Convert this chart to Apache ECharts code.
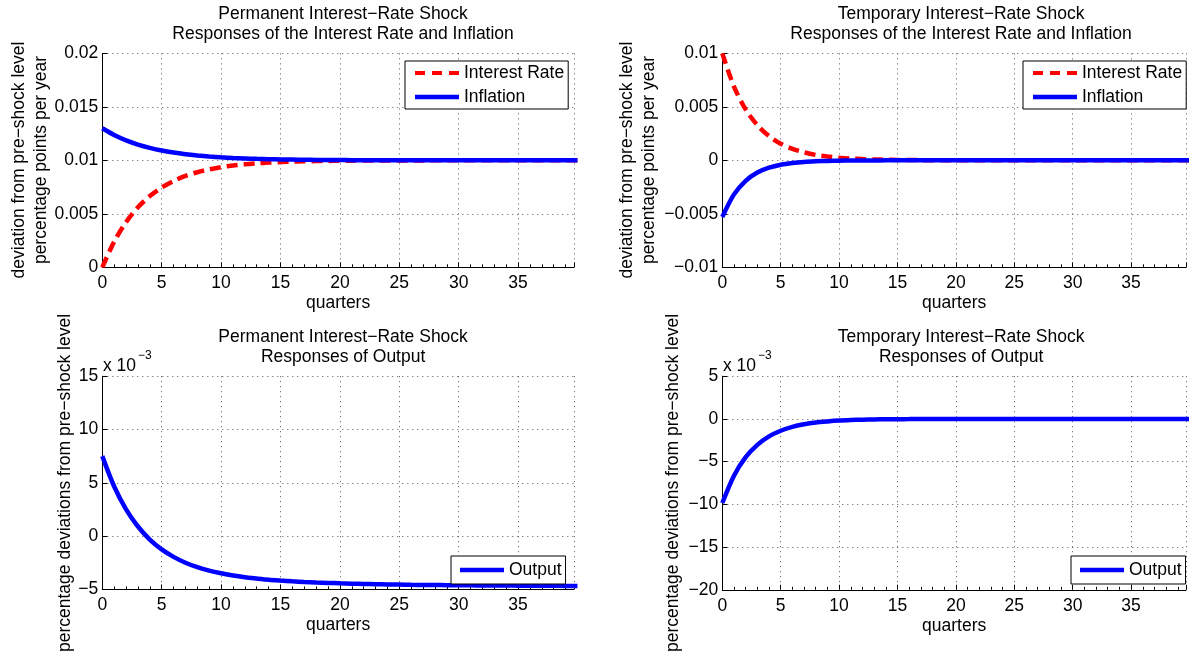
<!DOCTYPE html>
<html>
<head>
<meta charset="utf-8">
<script src="https://cdn.jsdelivr.net/npm/echarts@6/dist/echarts.min.js"></script>
<style>
html,body{margin:0;padding:0;background:#fff;}
#chart{width:1189px;height:656px;}
</style>
</head>
<body>
<div id="chart"></div>
<script>
// ---- data ----
const quarters = [0,1,2,3,4,5,6,7,8,9,10,11,12,13,14,15,16,17,18,19,20,21,22,23,24,25,26,27,28,29,30,31,32,33,34,35,36,37,38,39,40];

// Permanent shock: interest rate and inflation
const permRate = [0,0.00240,0.00422,0.00561,0.00666,0.00746,0.00807,0.00854,0.00889,0.00915,0.00936,0.00951,0.00963,0.00972,0.00979,0.00984,0.00988,0.00991,0.00993,0.00995,0.00996,0.00997,0.00998,0.00998,0.00999,0.00999,0.00999,0.00999,0.01,0.01,0.01,0.01,0.01,0.01,0.01,0.01,0.01,0.01,0.01,0.01,0.01];
const permInfl = [0.01300,0.01237,0.01187,0.01148,0.01117,0.01092,0.01073,0.01058,0.01046,0.01036,0.01028,0.01022,0.01018,0.01014,0.01011,0.01009,0.01007,0.01005,0.01004,0.01003,0.01003,0.01002,0.01002,0.01001,0.01001,0.01001,0.01001,0.01001,0.01,0.01,0.01,0.01,0.01,0.01,0.01,0.01,0.01,0.01,0.01,0.01,0.01];

// Temporary shock: interest rate and inflation
const tempRate = [0.0100,0.00690,0.00476,0.00329,0.00227,0.00156,0.00108,0.00075,0.00051,0.00036,0.00025,0.00017,0.00012,0.00008,0.00006,0.00004,0.00003,0.00002,0.00001,0.00001,0.00001,0,0,0,0,0,0,0,0,0,0,0,0,0,0,0,0,0,0,0,0];
const tempInfl = [-0.00530,-0.00318,-0.00191,-0.00114,-0.00069,-0.00041,-0.00025,-0.00015,-0.00009,-0.00005,-0.00003,-0.00002,-0.00001,-0.00001,0,0,0,0,0,0,0,0,0,0,0,0,0,0,0,0,0,0,0,0,0,0,0,0,0,0,0];

// Output responses (units of 1e-3)
const permOutput = [7.50,4.65,2.51,0.90,-0.32,-1.25,-1.95,-2.50,-2.92,-3.24,-3.49,-3.70,-3.86,-3.98,-4.09,-4.17,-4.24,-4.30,-4.35,-4.39,-4.43,-4.46,-4.49,-4.51,-4.53,-4.55,-4.57,-4.58,-4.59,-4.60,-4.61,-4.62,-4.63,-4.64,-4.64,-4.65,-4.65,-4.66,-4.66,-4.67,-4.67];
const tempOutput = [-9.84,-6.64,-4.48,-3.03,-2.04,-1.38,-0.93,-0.63,-0.42,-0.29,-0.19,-0.13,-0.09,-0.06,-0.04,-0.03,-0.02,-0.01,-0.01,-0.01,0,0,0,0,0,0,0,0,0,0,0,0,0,0,0,0,0,0,0,0,0];

const xTicks = [0,5,10,15,20,25,30,35];
const titles = [
  'Permanent Interest\u2212Rate Shock\nResponses of the Interest Rate and Inflation',
  'Temporary Interest\u2212Rate Shock\nResponses of the Interest Rate and Inflation',
  'Permanent Interest\u2212Rate Shock\nResponses of Output',
  'Temporary Interest\u2212Rate Shock\nResponses of Output'
];
const yNameTop = 'deviation from pre\u2212shock level\npercentage points per year';
const yNameBottom = 'percentage deviations from pre\u2212shock level';

// ---- chart ----
const FONT = "'Liberation Sans', Arial, Helvetica, sans-serif";
const FS = 17.5;
const chart = echarts.init(document.getElementById('chart'), null, {renderer: 'canvas'});

const pairs = arr => quarters.map((q, i) => [q, arr[i]]);
const fmt = v => String(Math.round(v * 100000) / 100000).replace('-', '\u2212');

const grids = [
  {left: 102.3, top: 53.4, width: 471.6, height: 213.9},
  {left: 722.3, top: 53.4, width: 471.6, height: 213.9},
  {left: 102.3, top: 376.2, width: 471.6, height: 213.2},
  {left: 722.3, top: 376.2, width: 471.6, height: 213.6}
];
const yRanges = [
  {min: 0, max: 0.02, interval: 0.005},
  {min: -0.01, max: 0.01, interval: 0.005},
  {min: -5, max: 15, interval: 5},
  {min: -20, max: 5, interval: 5}
];
const gridLine = {show: true, lineStyle: {color: '#555', width: 1, type: [1, 4]}};

const xAxes = grids.map((g, i) => ({
  type: 'value', gridIndex: i, min: 0, max: 39.7, interval: 5,
  name: 'quarters', nameLocation: 'middle', nameGap: 27,
  nameTextStyle: {fontSize: FS, color: '#000', fontFamily: FONT},
  axisLine: {show: true, onZero: false, lineStyle: {color: '#000', width: 1}},
  axisTick: {show: true, inside: true, length: 5, lineStyle: {color: '#000'}},
  minorTick: {show: true, splitNumber: 5, length: 3, lineStyle: {color: '#000'}},
  axisLabel: {fontSize: FS, color: '#000', fontFamily: FONT, margin: 7,
    formatter: v => (xTicks.indexOf(v) >= 0 ? fmt(v) : '')},
  splitLine: gridLine
}));
const yAxes = grids.map((g, i) => ({
  type: 'value', gridIndex: i, min: yRanges[i].min, max: yRanges[i].max, interval: yRanges[i].interval,
  axisLine: {show: true, onZero: false, lineStyle: {color: '#000', width: 1}},
  axisTick: {show: true, inside: true, length: 5, lineStyle: {color: '#000'}},
  axisLabel: {fontSize: FS, color: '#000', fontFamily: FONT, margin: 4, formatter: fmt},
  splitLine: gridLine
}));

const redLine = {color: '#ff0000', width: 4.5, type: [11, 6], cap: 'butt'};
const blueLine = {color: '#0000ff', width: 4.5, type: 'solid'};
function mkSeries(name, arr, idx, ls) {
  return {
    name: name, type: 'line', xAxisIndex: idx, yAxisIndex: idx,
    data: pairs(arr), showSymbol: false, symbol: 'none',
    smooth: 0.3, clip: true,
    lineStyle: ls, itemStyle: {color: ls.color}, silent: true, animation: false
  };
}

const dashIcon = 'path://M0,0h10v4h-10z M17,0h10v4h-10z M34,0h10v4h-10z';
const legendBase = {
  orient: 'vertical', itemWidth: 44, itemHeight: 4.5, itemGap: 6,
  backgroundColor: '#fff', borderColor: '#000', borderWidth: 1, borderRadius: 0,
  textStyle: {fontSize: FS, color: '#000', fontFamily: FONT, lineHeight: 17, height: 17},
  selectedMode: false
};
const topLegendData = [
  {name: 'Interest Rate', icon: dashIcon, itemStyle: {color: '#ff0000'}},
  {name: 'Inflation', icon: 'rect', itemStyle: {color: '#0000ff'}}
];
const botLegendData = [{name: 'Output', icon: 'rect', itemStyle: {color: '#0000ff'}}];

const option = {
  animation: false,
  textStyle: {fontFamily: FONT},
  title: titles.map((t, i) => ({
    text: t, left: grids[i].left + grids[i].width / 2 - (i % 2 ? 2 : 0), top: i < 2 ? -1 : 322, textAlign: 'center',
    textStyle: {fontSize: FS, fontWeight: 'normal', color: '#000', lineHeight: 20, fontFamily: FONT}
  })),
  grid: grids,
  xAxis: xAxes,
  yAxis: yAxes,
  legend: [
    Object.assign({}, legendBase, {data: topLegendData, left: 405, top: 61, padding: [3, 4, 3, 10]}),
    Object.assign({}, legendBase, {data: topLegendData, left: 1023, top: 61, padding: [3, 4, 3, 10]}),
    Object.assign({}, legendBase, {data: botLegendData, left: 451, top: 556, padding: [5, 4, 5, 9]}),
    Object.assign({}, legendBase, {data: botLegendData, left: 1071, top: 556, padding: [5, 4, 5, 9]})
  ],
  graphic: [
    {type: 'text', x: 29.7, y: 160, rotation: Math.PI / 2,
      style: {text: yNameTop, fontSize: FS, fontFamily: FONT, fill: '#000', align: 'center', verticalAlign: 'middle', lineHeight: 22}},
    {type: 'text', x: 638, y: 160, rotation: Math.PI / 2,
      style: {text: yNameTop, fontSize: FS, fontFamily: FONT, fill: '#000', align: 'center', verticalAlign: 'middle', lineHeight: 22}},
    {type: 'text', x: 65, y: 483, rotation: Math.PI / 2,
      style: {text: yNameBottom, fontSize: FS, fontFamily: FONT, fill: '#000', align: 'center', verticalAlign: 'middle'}},
    {type: 'text', x: 673, y: 483, rotation: Math.PI / 2,
      style: {text: yNameBottom, fontSize: FS, fontFamily: FONT, fill: '#000', align: 'center', verticalAlign: 'middle'}},
    {type: 'text', x: 103, y: 366,
      style: {text: 'x 10', fontSize: FS, fontFamily: FONT, fill: '#000', align: 'left', verticalAlign: 'middle'}},
    {type: 'text', x: 138, y: 356,
      style: {text: '\u22123', fontSize: 12, fontFamily: FONT, fill: '#000', align: 'left', verticalAlign: 'middle'}},
    {type: 'text', x: 723, y: 366,
      style: {text: 'x 10', fontSize: FS, fontFamily: FONT, fill: '#000', align: 'left', verticalAlign: 'middle'}},
    {type: 'text', x: 758, y: 356,
      style: {text: '\u22123', fontSize: 12, fontFamily: FONT, fill: '#000', align: 'left', verticalAlign: 'middle'}}
  ],
  series: [
    mkSeries('Interest Rate', permRate, 0, redLine),
    mkSeries('Inflation', permInfl, 0, blueLine),
    mkSeries('Interest Rate', tempRate, 1, redLine),
    mkSeries('Inflation', tempInfl, 1, blueLine),
    mkSeries('Output', permOutput, 2, blueLine),
    mkSeries('Output', tempOutput, 3, blueLine)
  ]
};
chart.setOption(option);
</script>
</body>
</html>
